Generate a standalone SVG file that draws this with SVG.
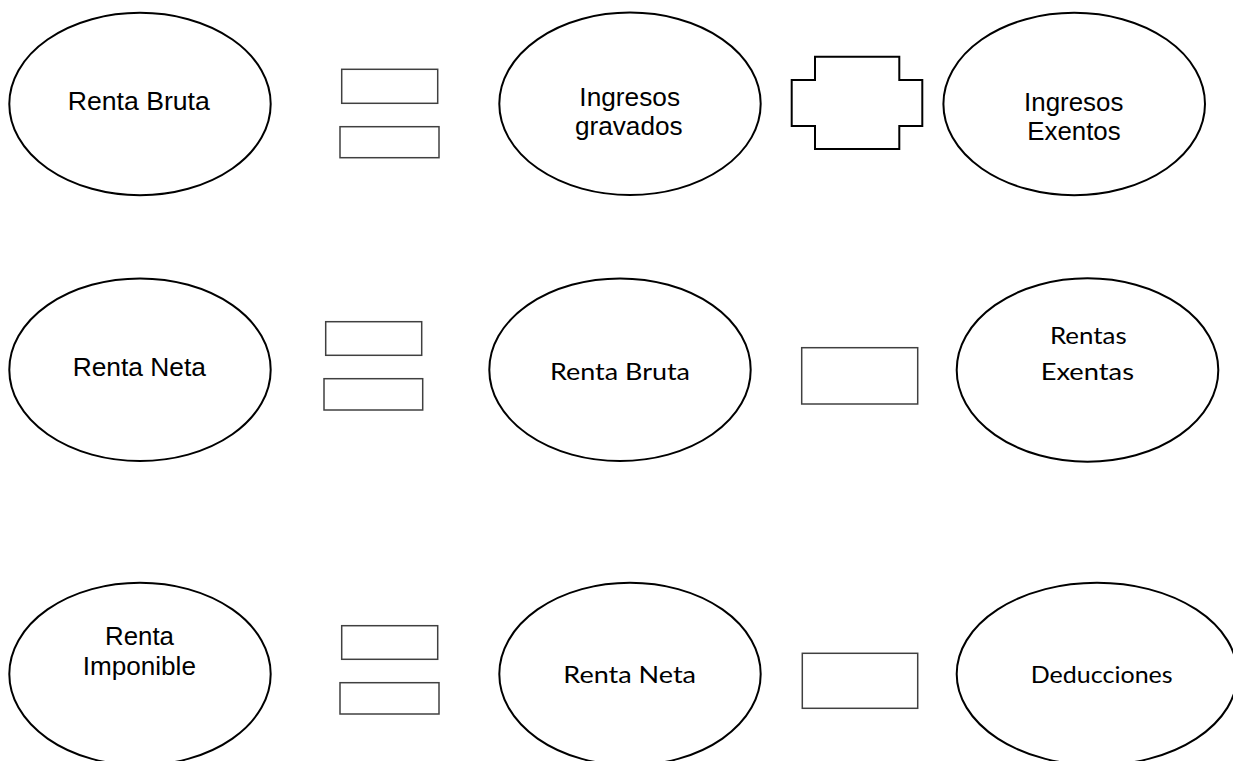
<svg xmlns="http://www.w3.org/2000/svg" width="1233" height="761" viewBox="0 0 1233 761">
  <style>
    .node { fill: #ffffff; stroke: #000000; stroke-width: 2; }
    .box { fill: #ffffff; stroke: #404040; stroke-width: 1.5; }
    .cross { fill: #ffffff; stroke: #000000; stroke-width: 2; }
    .arial { font-family: "Liberation Sans", Arial, sans-serif; font-size: 25px; fill: #000000; text-anchor: middle; }
    .calibri { font-family: Lato, "Open Sans", sans-serif; font-size: 24px; fill: #000000; text-anchor: middle; }
  </style>
  <rect width="1233" height="761" fill="#ffffff"/>

  <!-- Row 1: Renta Bruta = Ingresos gravados + Ingresos Exentos -->
  <g id="renta-bruta-1">
    <ellipse class="node" cx="140" cy="104" rx="130.7" ry="91.2"/>
    <text class="arial" x="138.8" y="110" textLength="142" lengthAdjust="spacingAndGlyphs">Renta Bruta</text>
  </g>
  <g id="igual-1">
    <rect class="box" x="341.7" y="69.3" width="96" height="34"/>
    <rect class="box" x="340" y="126.7" width="99" height="31"/>
  </g>
  <g id="ingresos-gravados">
    <ellipse class="node" cx="630" cy="103.8" rx="130.7" ry="91.2"/>
    <text class="arial" x="629.7" y="106" textLength="100.7" lengthAdjust="spacingAndGlyphs">Ingresos</text>
    <text class="arial" x="628.8" y="135" textLength="107.7" lengthAdjust="spacingAndGlyphs">gravados</text>
  </g>
  <g id="mas-1">
    <path class="cross" d="M815,56.7 H899.3 V80 H922.3 V126 H899.3 V149 H815 V126 H791.7 V80 H815 Z"/>
  </g>
  <g id="ingresos-exentos">
    <ellipse class="node" cx="1074.2" cy="104" rx="130.8" ry="91.2"/>
    <text class="arial" x="1073.7" y="110.7" textLength="99.3" lengthAdjust="spacingAndGlyphs">Ingresos</text>
    <text class="arial" x="1074" y="140" textLength="93.3" lengthAdjust="spacingAndGlyphs">Exentos</text>
  </g>

  <!-- Row 2: Renta Neta = Renta Bruta - Rentas Exentas -->
  <g id="renta-neta-2">
    <ellipse class="node" cx="140" cy="369.7" rx="130.7" ry="91.3"/>
    <text class="arial" x="139.3" y="376" textLength="133.3" lengthAdjust="spacingAndGlyphs">Renta Neta</text>
  </g>
  <g id="igual-2">
    <rect class="box" x="325.7" y="321.7" width="96" height="33.6"/>
    <rect class="box" x="324" y="378.7" width="98.7" height="31.3"/>
  </g>
  <g id="renta-bruta-2">
    <ellipse class="node" cx="620" cy="369.7" rx="130.7" ry="91.3"/>
    <text class="calibri" x="620" y="380" textLength="140" lengthAdjust="spacingAndGlyphs">Renta Bruta</text>
  </g>
  <g id="menos-2">
    <rect class="box" x="801.7" y="347.7" width="116" height="56.3"/>
  </g>
  <g id="rentas-exentas">
    <ellipse class="node" cx="1087.5" cy="370" rx="130.8" ry="91.7"/>
    <text class="calibri" x="1088.3" y="344" textLength="76.7" lengthAdjust="spacingAndGlyphs">Rentas</text>
    <text class="calibri" x="1087.3" y="380" textLength="93.3" lengthAdjust="spacingAndGlyphs">Exentas</text>
  </g>

  <!-- Row 3: Renta Imponible = Renta Neta - Deducciones -->
  <g id="renta-imponible">
    <ellipse class="node" cx="140" cy="674" rx="130.7" ry="91.3"/>
    <text class="arial" x="139.5" y="645" textLength="69" lengthAdjust="spacingAndGlyphs">Renta</text>
    <text class="arial" x="139.3" y="675" textLength="113.3" lengthAdjust="spacingAndGlyphs">Imponible</text>
  </g>
  <g id="igual-3">
    <rect class="box" x="341.7" y="625.7" width="96" height="33.6"/>
    <rect class="box" x="340" y="682.7" width="99" height="31.3"/>
  </g>
  <g id="renta-neta-3">
    <ellipse class="node" cx="630" cy="674" rx="130.7" ry="91.3"/>
    <text class="calibri" x="629.7" y="683.3" textLength="132.7" lengthAdjust="spacingAndGlyphs">Renta Neta</text>
  </g>
  <g id="menos-3">
    <rect class="box" x="802.3" y="653.3" width="115.4" height="55"/>
  </g>
  <g id="deducciones">
    <ellipse class="node" cx="1097" cy="674" rx="140.3" ry="91.3"/>
    <text class="calibri" x="1101.7" y="683.3" textLength="142" lengthAdjust="spacingAndGlyphs">Deducciones</text>
  </g>

  <!-- no connectors: the operator shapes stand between the terms -->
  <g id="connectors"/>
</svg>
